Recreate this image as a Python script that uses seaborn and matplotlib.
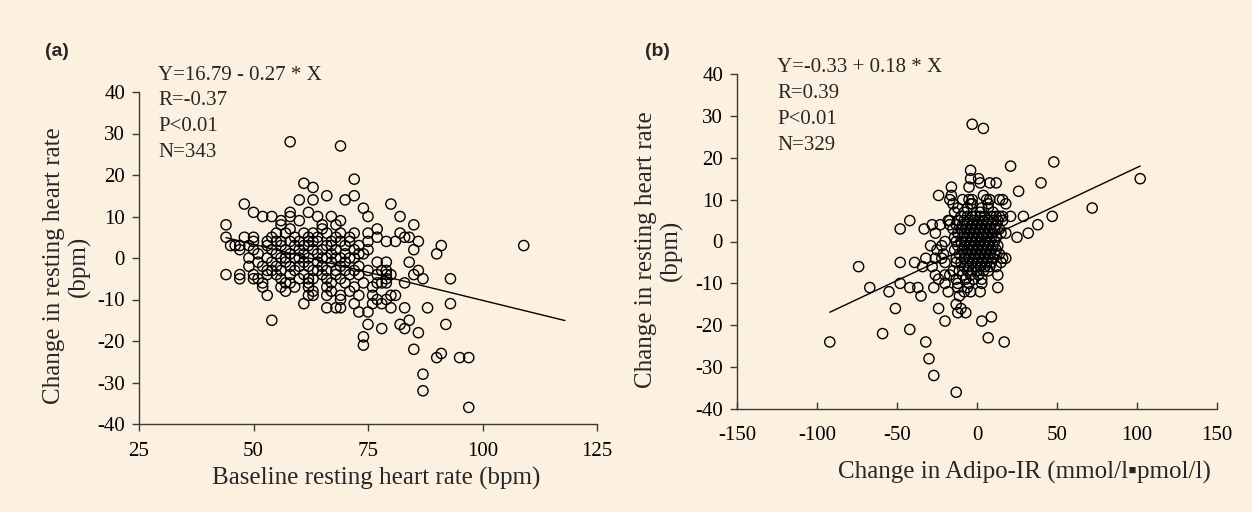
import numpy as np
import pandas as pd
import matplotlib
matplotlib.use("Agg")
import matplotlib.pyplot as plt
import seaborn as sns

# ---------------- data ----------------
baseline_hr = [58, 69, 72, 61, 63, 66, 72, 60, 63, 70, 48, 80, 74, 50, 58, 62, 52, 54, 58, 64, 67, 75, 82,
               56, 60, 69, 44, 56, 65, 68, 85, 58, 65, 77, 57, 61, 63, 69, 72, 75, 82, 44, 48, 50, 54, 64,
               68, 71, 77, 83, 84, 50, 53, 55, 58, 60, 62, 64, 67, 69, 71, 75, 79, 81, 86, 45, 46, 47, 49,
               53, 56, 59, 62, 66, 70, 73, 91, 109, 47, 50, 54, 57, 60, 63, 65, 68, 72, 75, 85, 51, 55, 58,
               61, 64, 67, 70, 74, 90, 49, 53, 56, 59, 62, 66, 69, 72, 51, 54, 57, 61, 64, 67, 70, 77, 79,
               84, 49, 52, 55, 58, 62, 65, 69, 73, 53, 56, 59, 63, 66, 68, 72, 75, 78, 79, 86, 44, 47, 50,
               53, 55, 58, 61, 65, 68, 71, 73, 77, 79, 80, 85, 51, 56, 60, 63, 66, 69, 79, 87, 93, 47, 50,
               52, 57, 62, 67, 70, 77, 79, 83, 52, 56, 62, 66, 72, 57, 63, 67, 71, 53, 62, 63, 66, 69, 73,
               76, 80, 81, 69, 77, 79, 61, 72, 76, 78, 93, 66, 68, 69, 80, 83, 88, 73, 75, 54, 84, 75, 82,
               92, 78, 83, 86, 74, 74, 85, 91, 90, 95, 97, 87, 87, 97,
               55, 59, 61, 57, 60, 64, 67, 70, 65, 60, 63, 58, 62, 54, 56, 71, 68, 66, 73, 74, 76, 78, 62, 59]
change_hr_a = [28, 27, 19, 18, 17, 15, 15, 14, 14, 14, 13, 13, 12, 11, 11, 11, 10, 10, 10, 10, 10, 10, 10,
               9, 9, 9, 8, 8, 8, 8, 8, 7, 7, 7, 6, 6, 6, 6, 6, 6, 6, 5, 5, 5, 5, 5,
               5, 5, 5, 5, 5, 4, 4, 4, 4, 4, 4, 4, 4, 4, 4, 4, 4, 4, 4, 3, 3, 3, 3,
               3, 3, 3, 3, 3, 3, 3, 3, 3, 2, 2, 2, 2, 2, 2, 2, 2, 2, 2, 2, 1, 1, 1,
               1, 1, 1, 1, 1, 1, 0, 0, 0, 0, 0, 0, 0, 0, -1, -1, -1, -1, -1, -1, -1, -1, -1,
               -1, -2, -2, -2, -2, -2, -2, -2, -2, -3, -3, -3, -3, -3, -3, -3, -3, -3, -3, -3, -4, -4, -4,
               -4, -4, -4, -4, -4, -4, -4, -4, -4, -4, -4, -4, -5, -5, -5, -5, -5, -5, -5, -5, -5, -5, -5,
               -6, -6, -6, -6, -6, -6, -6, -6, -7, -7, -7, -7, -7, -8, -8, -8, -8, -9, -9, -9, -9, -9, -9,
               -9, -9, -9, -10, -10, -10, -11, -11, -11, -11, -11, -12, -12, -12, -12, -12, -12, -13, -13, -15, -15, -16, -16,
               -16, -17, -17, -18, -19, -21, -22, -23, -24, -24, -24, -28, -32, -36,
               6, 5, 3, 0, -2, -3, 3, -3, 0, 0, 4, -6, -5, -3, 4, 0, 0, 6, 1, -6, -7, -6, 5, -7]

adipo_ir_change = [-3, 4, 48, 21, 102, -4, -4, 1, 2, 8, 12, 40, -16, -5, -24, -16, 4, 26, -17, 72, -42, 29, 47,
                   -51, -24, -13, -10, -12, -7, -20, 3, 9, -59, -42, -92, -32, 7, 17, -30, -27, -13,
                   -9, -3, 6, 8, 14, 16, -5, -15, -3, 7, 18, -4, -12, 3, 7, -6, -14, -8, 2, 10,
                   -10, -6, -3, -1, 2, 5, 9, 12, 14, 16, 21, -17, -18, -12, -8, -5, -2, 1, 4, 7, 10, 13, 16,
                   -28, -23, -17, -13, -9, -6, -3, 0, 3, 6, 9, 12, 38, -48, -33, -15, -10, -7, -4, -1, 2, 5, 8, 11, 14,
                   -26, -12, -8, -5, -2, 1, 4, 7, 10, 15, 18, 32, -14, -9, -6, -3, 0, 3, 6, 9, 12, 25,
                   -13, -10, -7, -4, -1, 2, 5, 8, 11, -20, -29, -22, -12, -8, -5, -2, 1, 4, 7, 10, 13,
                   -25, -14, -9, -6, -3, 0, 3, 6, 9, 12, -21, -11, -7, -4, -1, 2, 5, 8, 11, 14,
                   -32, -26, -22, -13, -8, -5, -2, 1, 4, 7, 10, 16, 18, -48, -39, -20, -10, -6, -3, 0, 3, 6, 9, 15, -13,
                   -74, -34, -28, -8, -5, -1, 2, 5, 8, 12, -11, -6, -3, 0, 4, 7, -15,
                   -26, -20, -17, -9, -4, 1, 13, -13, -7, -2, 3, -24, -48, -20, -12, -5, 3,
                   -67, -42, -37, -27, -12, -6, 13, -55, -18, -8, -4, 2, -35, -11]
change_hr_b = [28, 27, 19, 18, 15, 17, 15, 15, 14, 14, 14, 14, 13, 13, 11, 11, 11, 12, 10, 8, 5, 6, 6,
               -16, -16, -15, -16, -17, -17, -19, -19, -18, -22, -21, -24, -24, -23, -24, -28, -32, -36,
               10, 10, 10, 10, 10, 10, 10, 9, 9, 9, 9, 9, 8, 8, 8, 8, 7, 7, 7, 7,
               6, 6, 6, 6, 6, 6, 6, 6, 6, 6, 6, 5, 5, 5, 5, 5, 5, 5, 5, 5, 5, 5, 5,
               4, 4, 4, 4, 4, 4, 4, 4, 4, 4, 4, 4, 4, 3, 3, 3, 3, 3, 3, 3, 3, 3, 3, 3, 3,
               2, 2, 2, 2, 2, 2, 2, 2, 2, 2, 2, 2, 1, 1, 1, 1, 1, 1, 1, 1, 1, 1,
               0, 0, 0, 0, 0, 0, 0, 0, 0, 0, -1, -1, -1, -1, -1, -1, -1, -1, -1, -1, -1,
               -2, -2, -2, -2, -2, -2, -2, -2, -2, -2, -3, -3, -3, -3, -3, -3, -3, -3, -3, -3,
               -4, -4, -4, -4, -4, -4, -4, -4, -4, -4, -4, -4, -4, -5, -5, -5, -5, -5, -5, -5, -5, -5, -5, -5, -5,
               -6, -6, -6, -6, -6, -6, -6, -6, -6, -6, -7, -7, -7, -7, -7, -7, -7,
               -8, -8, -8, -8, -8, -8, -8, -9, -9, -9, -9, -9, -10, -10, -10, -10, -10,
               -11, -11, -11, -11, -11, -11, -11, -12, -12, -12, -12, -12, -13, -13]

# regression coefficients and line extents shown in the chart
fit_a = {"intercept": 16.79, "slope": -0.27, "x_range": [44, 118]}
fit_b = {"intercept": -0.33, "slope": 0.18, "x_range": [-92, 102]}
stats_a = ["Y=16.79 - 0.27 * X", "R=-0.37", "P<0.01", "N=343"]
stats_b = ["Y=-0.33 + 0.18 * X", "R=0.39", "P<0.01", "N=329"]
xticks_a = [25, 50, 75, 100, 125]
xticks_b = [-150, -100, -50, 0, 50, 100, 150]
yticks = [-40, -30, -20, -10, 0, 10, 20, 30, 40]

# ---------------- style ----------------
BG = "#FCF1E1"
sns.set_theme(style="white")
plt.rcParams["font.family"] = ["Liberation Serif", "DejaVu Sans"]
plt.rcParams["axes.unicode_minus"] = False
plt.rcParams["axes.facecolor"] = BG
plt.rcParams["figure.facecolor"] = BG

W, H = 1252, 512
fig = plt.figure(figsize=(W / 100, H / 100), dpi=100)

def px_axes(l, t, r, b):
    return fig.add_axes([l / W, 1 - b / H, (r - l) / W, (b - t) / H])

ax_a = px_axes(139, 92, 597, 424)
ax_b = px_axes(737, 74, 1217, 409)

df_a = pd.DataFrame({"x": baseline_hr, "y": change_hr_a})
df_b = pd.DataFrame({"x": adipo_ir_change, "y": change_hr_b})

SPINE = "#3a3a3a"
for ax, df, fit, xt, xlim in [(ax_a, df_a, fit_a, xticks_a, (25, 125)),
                              (ax_b, df_b, fit_b, xticks_b, (-150, 150))]:
    sns.scatterplot(data=df, x="x", y="y", ax=ax, marker="o", s=54,
                    facecolor="none", edgecolor="black", linewidth=1.0, legend=False)
    lx = np.array(fit["x_range"], dtype=float)
    sns.lineplot(x=lx, y=fit["intercept"] + fit["slope"] * lx, ax=ax, color="black", lw=1.0)
    ax.set_xlim(*xlim)
    ax.set_ylim(-40, 40)
    ax.set_xticks(xt)
    ax.set_yticks(yticks)
    ax.set_xlabel("")
    ax.set_ylabel("")
    for s in ["top", "right"]:
        ax.spines[s].set_visible(False)
    for s in ["left", "bottom"]:
        ax.spines[s].set_color(SPINE)
        ax.spines[s].set_linewidth(1.0)
    ax.tick_params(axis="both", labelsize=15, colors=SPINE, labelcolor="black",
                   length=5, width=1.0, left=True, bottom=True)
    ax.grid(False)

ax_a.tick_params(axis="x", direction="out", pad=8)
ax_a.tick_params(axis="y", direction="out", pad=5)
ax_b.tick_params(axis="x", direction="in", pad=12)
ax_b.tick_params(axis="y", direction="out", pad=5)

# axis labels
fig.text(376 / W, 1 - 478 / H, "Baseline resting heart rate (bpm)", ha="center", va="center", fontsize=18)
fig.text(1024 / W, 1 - 472 / H, "Change in Adipo-IR (mmol/l\u25aapmol/l)", ha="center", va="center",
         fontsize=18)
fig.text(67 / W, 1 - 266 / H, "Change in resting heart rate\n(bpm)", ha="center", va="center",
         rotation=90, fontsize=18, linespacing=1.15)
fig.text(659 / W, 1 - 250 / H, "Change in resting heart rate\n(bpm)", ha="center", va="center",
         rotation=90, fontsize=18, linespacing=1.15)

# panel letters
fig.text(57 / W, 1 - 52 / H, "(a)", ha="center", va="center", fontsize=14,
         fontweight="bold", family=["Liberation Sans", "DejaVu Sans"])
fig.text(657 / W, 1 - 52 / H, "(b)", ha="center", va="center", fontsize=14,
         fontweight="bold", family=["Liberation Sans", "DejaVu Sans"])

# stats text
for i, t in enumerate(stats_a):
    fig.text(158 / W, 1 - (75 + 25.7 * i) / H, t, ha="left", va="center", fontsize=15)
for i, t in enumerate(stats_b):
    fig.text(777 / W, 1 - (67 + 26 * i) / H, t, ha="left", va="center", fontsize=15)

fig.savefig("out.png", dpi=100, facecolor=BG)
